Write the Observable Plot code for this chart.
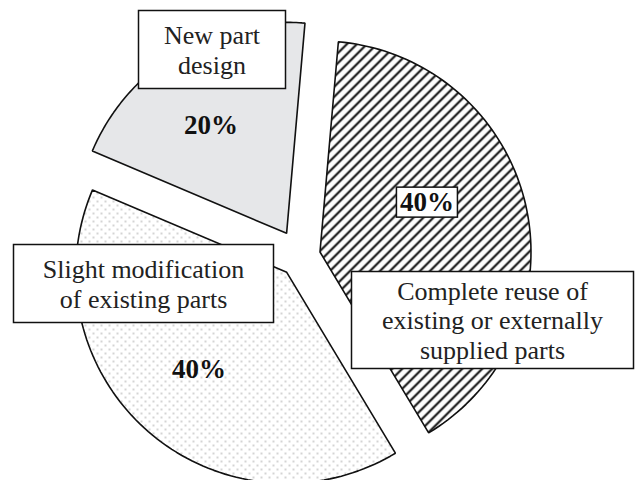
<!DOCTYPE html>
<html><head><meta charset="utf-8">
<script src="https://cdn.jsdelivr.net/npm/d3@7"></script>
<script src="https://cdn.jsdelivr.net/npm/@observablehq/plot@0.6"></script>
<style>body{margin:0;background:#fff} #chart{width:637px;height:480px}</style>
</head><body><div id="chart"></div>
<script>
// ---- data ----
const categories = ["Complete reuse of existing or externally supplied parts", "Slight modification of existing parts", "New part design"];
const labelLines = ["Complete reuse of\nexisting or externally\nsupplied parts", "Slight modification\nof existing parts", "New part\ndesign"];
const shares = [40, 40, 20];
const shareLabels = ["40%", "40%", "20%"];

// ---- layout (pixels, converted through the scales) ----
const W = 637, H = 480, R = 211, CX = 300, CY = 256;
const startDeg = 5;
const fills = ["url(#hatch)", "url(#dots)", "#e6e7e9"];
const explodePx = [20, 21, 27];
const pctAt = [{a: 65, d: 118}, {a: 222, d: 131}, {a: 325, d: 132}];   // from each slice apex
const labelAt = [[492, 319.5], [143, 283], [211.5, 49]];              // box centres
const boxSize = [[282, 97], [260, 78], [147, 78]];
const FONT = "Liberation Serif, Times New Roman, serif";

const rad = Math.PI / 180;
const arcs = d3.pie().sort(null).startAngle(startDeg * rad).endAngle(startDeg * rad + 2 * Math.PI)(shares);

const slices = arcs.map((a, i) => {
  const mid = (a.startAngle + a.endAngle) / 2;
  const e = explodePx[i] / R;
  const ex = e * Math.sin(mid), ey = e * Math.cos(mid);
  const pts = [{x: ex, y: ey}];
  const n = 90;
  for (let k = 0; k <= n; k++) {
    const t = a.startAngle + (a.endAngle - a.startAngle) * k / n;
    pts.push({x: ex + Math.sin(t), y: ey + Math.cos(t)});
  }
  const pa = pctAt[i].a * rad, pd = pctAt[i].d / R;
  return {pts, pct: {x: ex + pd * Math.sin(pa), y: ey + pd * Math.cos(pa), text: shareLabels[i]}};
});

const labels = categories.map((c, i) => ({
  name: c, text: labelLines[i],
  x: (labelAt[i][0] - CX) / R, y: (CY - labelAt[i][1]) / R
}));

function boxed(sizes, sw) {
  return function (index, scales, values, dimensions, context, next) {
    const g = next(index, scales, values, dimensions, context);
    const ns = "http://www.w3.org/2000/svg";
    for (const i of index) {
      const [w, h] = sizes[i];
      const r = document.createElementNS(ns, "rect");
      r.setAttribute("x", values.x[i] - w / 2);
      r.setAttribute("y", values.y[i] - h / 2);
      r.setAttribute("width", w);
      r.setAttribute("height", h);
      r.setAttribute("fill", "white");
      r.setAttribute("stroke", "#111");
      r.setAttribute("stroke-width", sw);
      g.insertBefore(r, g.firstChild);
    }
    return g;
  };
}

const pctData = slices.map(s => s.pct);

const chart = Plot.plot({
  width: W, height: H, margin: 0,
  x: {domain: [-CX / R, (W - CX) / R], axis: null},
  y: {domain: [(CY - H) / R, CY / R], axis: null},
  style: {background: "white", fontFamily: FONT},
  marks: [
    ...slices.map((s, i) => Plot.line(s.pts, {
      x: "x", y: "y", curve: "linear-closed", fill: fills[i],
      stroke: "#111", strokeWidth: 1.6, strokeLinejoin: "miter"
    })),
    Plot.text(pctData.slice(1), {
      x: "x", y: "y", text: "text", fontSize: 27, fontWeight: "bold", fill: "#111", fontFamily: FONT
    }),
    Plot.text(pctData.slice(0, 1), {
      x: "x", y: "y", text: "text", fontSize: 27, fontWeight: "bold", fill: "#111", fontFamily: FONT,
      render: boxed([[61, 30]], 1.5)
    }),
    Plot.text(labels, {
      x: "x", y: "y", text: "text", fontSize: 26, lineHeight: 1.13, fill: "#222", fontFamily: FONT,
      render: boxed(boxSize, 1.5)
    })
  ]
});

d3.select(chart).insert("defs", ":first-child").html(`
  <pattern id="hatch" patternUnits="userSpaceOnUse" width="10" height="10">
    <rect width="10" height="10" fill="white"/>
    <path d="M-2,2 L2,-2 M0,10 L10,0 M8,12 L12,8" stroke="#111" stroke-width="2.1"/>
  </pattern>
  <pattern id="dots" patternUnits="userSpaceOnUse" width="8" height="8">
    <rect width="8" height="8" fill="white"/>
    <rect x="0" y="0" width="2" height="2" fill="#d4d4d4"/>
    <rect x="4" y="4" width="2" height="2" fill="#d4d4d4"/>
  </pattern>`);

document.getElementById("chart").appendChild(chart);
</script>
</body></html>
